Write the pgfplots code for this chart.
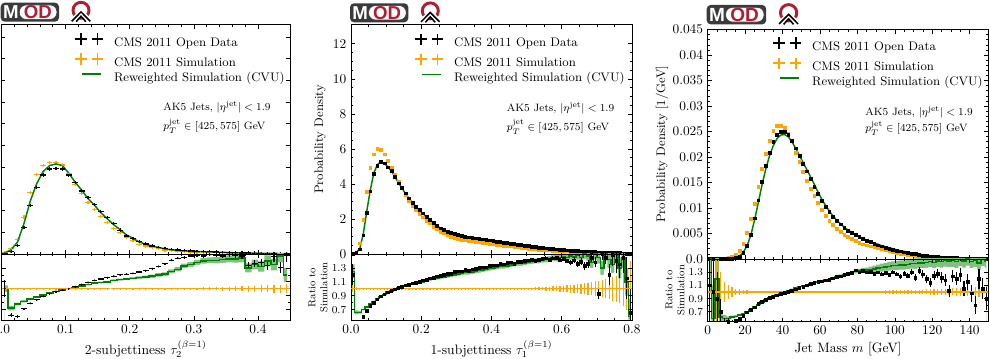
\documentclass[border=0pt]{standalone}
\usepackage{fontspec}
\usepackage{pgfplots}
\usepackage{pgfplotstable}
\pgfplotsset{compat=1.18}
\newfontfamily\logofont{Liberation Sans}
\definecolor{mplorange}{HTML}{FFA500}
\definecolor{mplgreen}{HTML}{008000}
\definecolor{bandgreen}{HTML}{80C080}
\definecolor{modred}{HTML}{B01E34}
\definecolor{moddark}{HTML}{3A3A3A}
\newcommand{\fs}[1]{\fontsize{#1}{#1}\selectfont}

\pgfplotstableread{
x d s g
0.005 0.06 0.10 0.10
0.015 0.20 0.50 0.40
0.025 0.76 1.36 1.10
0.035 2.42 3.40 2.80
0.045 4.46 5.66 4.90
0.055 6.12 7.34 6.50
0.065 7.28 8.14 7.60
0.075 7.84 8.44 8.15
0.085 7.86 8.44 8.30
0.095 7.84 8.20 8.15
0.105 7.28 7.40 7.45
0.115 6.58 6.40 6.60
0.125 5.80 5.60 5.90
0.135 5.20 4.72 5.10
0.145 4.58 4.12 4.50
0.155 3.90 3.44 3.80
0.165 3.38 2.88 3.25
0.175 2.82 2.36 2.70
0.185 2.20 1.96 2.25
0.195 1.66 1.50 1.75
0.205 1.44 1.26 1.45
0.215 1.14 0.90 1.10
0.225 0.92 0.74 0.90
0.235 0.74 0.62 0.74
0.245 0.62 0.48 0.60
0.255 0.50 0.37 0.48
0.265 0.42 0.30 0.39
0.275 0.36 0.25 0.33
0.285 0.31 0.21 0.28
0.295 0.28 0.19 0.26
0.305 0.25 0.17 0.23
0.315 0.22 0.15 0.21
0.325 0.20 0.135 0.19
0.335 0.18 0.12 0.17
0.345 0.16 0.105 0.15
0.355 0.14 0.095 0.13
0.365 0.12 0.08 0.11
0.375 0.10 0.068 0.09
0.385 0.09 0.065 0.085
0.395 0.08 0.057 0.075
0.405 0.07 0.05 0.068
0.415 0.06 0.043 0.058
0.425 0.05 0.035 0.05
0.435 0.045 0.033 0.045
0.445 0.04 0.027 0.035
}\pA

\pgfplotstableread{
x r re g ge se one
0.005 1.00 0.12 1.00 0.05 0.04 1
0.015 0.62 0.03 0.72 0.03 0.015 1
0.025 0.60 0.02 0.78 0.02 0.008 1
0.035 0.71 0.01 0.82 0.015 0.005 1
0.045 0.79 0.01 0.85 0.01 0.004 1
0.055 0.84 0.01 0.88 0.01 0.004 1
0.065 0.89 0.01 0.91 0.01 0.004 1
0.075 0.93 0.01 0.94 0.01 0.004 1
0.085 0.96 0.01 0.96 0.01 0.004 1
0.095 0.98 0.01 0.98 0.01 0.004 1
0.105 1.00 0.01 1.00 0.01 0.004 1
0.115 1.03 0.01 1.02 0.01 0.004 1
0.125 1.06 0.01 1.04 0.01 0.004 1
0.135 1.09 0.01 1.06 0.01 0.004 1
0.145 1.12 0.01 1.08 0.012 0.004 1
0.155 1.14 0.01 1.09 0.012 0.005 1
0.165 1.16 0.01 1.10 0.013 0.005 1
0.175 1.18 0.01 1.12 0.014 0.005 1
0.185 1.20 0.01 1.13 0.015 0.005 1
0.195 1.21 0.01 1.14 0.016 0.006 1
0.205 1.22 0.01 1.15 0.017 0.006 1
0.215 1.24 0.01 1.16 0.018 0.007 1
0.225 1.26 0.012 1.17 0.02 0.007 1
0.235 1.29 0.012 1.18 0.022 0.008 1
0.245 1.32 0.013 1.20 0.024 0.009 1
0.255 1.36 0.014 1.21 0.026 0.01 1
0.265 1.41 0.015 1.25 0.028 0.011 1
0.275 1.44 0.016 1.28 0.03 0.012 1
0.285 1.45 0.018 1.33 0.032 0.013 1
0.295 1.47 0.02 1.35 0.035 0.015 1
0.305 1.48 0.022 1.38 0.037 0.017 1
0.315 1.47 0.024 1.40 0.04 0.019 1
0.325 1.49 0.026 1.41 0.042 0.021 1
0.335 1.48 0.028 1.41 0.045 0.024 1
0.345 1.47 0.03 1.42 0.048 0.027 1
0.355 1.49 0.033 1.43 0.05 0.03 1
0.365 1.48 0.036 1.43 0.055 0.033 1
0.375 1.47 0.04 1.44 0.06 0.036 1
0.385 1.34 0.045 1.30 0.065 0.04 1
0.395 1.36 0.05 1.35 0.07 0.044 1
0.405 1.38 0.055 1.32 0.075 0.048 1
0.415 1.33 0.06 1.40 0.08 0.052 1
0.425 1.46 0.07 1.35 0.085 0.056 1
0.435 1.30 0.08 1.47 0.09 0.06 1
0.445 1.48 0.1 1.20 0.1 0.065 1
}\rA

\pgfplotstableread{
x d s g
0.005 0.02 0.01 0.02
0.015 0.10 0.05 0.08
0.025 0.27 0.61 0.30
0.035 1.07 1.94 1.15
0.045 2.36 3.56 2.45
0.055 3.58 4.93 3.65
0.065 4.59 5.69 4.62
0.075 5.05 6.00 5.10
0.085 5.28 5.94 5.27
0.095 5.18 5.69 5.18
0.105 4.95 5.31 4.97
0.115 4.76 4.90 4.74
0.125 4.42 4.51 4.42
0.135 4.04 4.13 4.07
0.145 3.79 3.75 3.76
0.155 3.47 3.37 3.46
0.165 3.18 3.05 3.17
0.175 2.93 2.74 2.91
0.185 2.70 2.51 2.68
0.195 2.51 2.29 2.48
0.205 2.32 2.10 2.30
0.215 2.13 1.90 2.11
0.225 1.94 1.75 1.95
0.235 1.79 1.56 1.78
0.245 1.60 1.41 1.62
0.255 1.47 1.27 1.47
0.265 1.37 1.18 1.36
0.275 1.27 1.07 1.26
0.285 1.20 0.98 1.19
0.295 1.14 0.92 1.13
0.305 1.09 0.865 1.08
0.315 1.04 0.825 1.03
0.325 1.00 0.787 0.99
0.335 0.96 0.756 0.95
0.345 0.93 0.727 0.92
0.355 0.90 0.698 0.89
0.365 0.87 0.669 0.86
0.375 0.84 0.641 0.83
0.385 0.81 0.614 0.80
0.395 0.78 0.586 0.77
0.405 0.75 0.56 0.74
0.415 0.72 0.533 0.71
0.425 0.69 0.511 0.68
0.435 0.66 0.485 0.65
0.445 0.63 0.46 0.62
0.455 0.60 0.438 0.59
0.465 0.57 0.413 0.56
0.475 0.54 0.391 0.53
0.485 0.51 0.367 0.50
0.495 0.48 0.343 0.47
0.505 0.45 0.321 0.45
0.515 0.42 0.298 0.42
0.525 0.40 0.284 0.40
0.535 0.37 0.261 0.37
0.545 0.35 0.246 0.35
0.555 0.33 0.231 0.33
0.565 0.31 0.217 0.31
0.575 0.29 0.203 0.29
0.585 0.27 0.19 0.27
0.595 0.25 0.176 0.25
0.605 0.23 0.163 0.24
0.615 0.21 0.15 0.22
0.625 0.20 0.144 0.20
0.635 0.18 0.13 0.19
0.645 0.17 0.125 0.17
0.655 0.155 0.116 0.16
0.665 0.14 0.106 0.15
0.675 0.13 0.10 0.14
0.685 0.12 0.092 0.13
0.695 0.11 0.086 0.12
0.705 0.10 0.078 0.11
0.715 0.09 0.07 0.10
0.725 0.08 0.063 0.09
0.735 0.07 0.056 0.08
0.745 0.062 0.05 0.07
0.755 0.055 0.045 0.065
0.765 0.048 0.04 0.05
0.775 0.04 0.034 0.045
0.785 0.033 0.028 0.035
0.795 0.025 0.022 0.02
}\pB

\pgfplotstableread{
x r re g ge se one
0.005 1.20 0.15 1.25 0.10 0.05 1
0.015 0.50 0.05 0.66 0.03 0.02 1
0.025 0.44 0.02 0.66 0.02 0.01 1
0.035 0.60 0.01 0.70 0.01 0.005 1
0.045 0.68 0.01 0.74 0.01 0.004 1
0.055 0.75 0.01 0.78 0.01 0.003 1
0.065 0.80 0.01 0.82 0.01 0.003 1
0.075 0.85 0.01 0.86 0.01 0.003 1
0.085 0.89 0.01 0.89 0.01 0.003 1
0.095 0.92 0.01 0.92 0.01 0.003 1
0.105 0.95 0.01 0.95 0.01 0.003 1
0.115 0.97 0.01 0.97 0.01 0.003 1
0.125 0.99 0.01 0.99 0.012 0.003 1
0.135 1.01 0.01 1.01 0.012 0.003 1
0.145 1.03 0.01 1.03 0.012 0.003 1
0.155 1.05 0.01 1.04 0.013 0.003 1
0.165 1.06 0.01 1.06 0.013 0.003 1
0.175 1.08 0.01 1.07 0.014 0.003 1
0.185 1.09 0.01 1.08 0.014 0.003 1
0.195 1.10 0.01 1.09 0.015 0.003 1
0.205 1.12 0.01 1.10 0.015 0.004 1
0.215 1.13 0.01 1.11 0.016 0.004 1
0.225 1.15 0.01 1.13 0.016 0.004 1
0.235 1.16 0.01 1.14 0.017 0.004 1
0.245 1.18 0.01 1.15 0.018 0.004 1
0.255 1.19 0.01 1.16 0.019 0.004 1
0.265 1.20 0.01 1.17 0.02 0.004 1
0.275 1.22 0.01 1.18 0.021 0.005 1
0.285 1.22 0.01 1.19 0.022 0.005 1
0.295 1.24 0.01 1.20 0.023 0.005 1
0.305 1.25 0.01 1.21 0.024 0.005 1
0.315 1.25 0.01 1.22 0.025 0.005 1
0.325 1.27 0.01 1.23 0.026 0.005 1
0.335 1.26 0.01 1.23 0.027 0.006 1
0.345 1.28 0.012 1.24 0.028 0.006 1
0.355 1.29 0.012 1.25 0.029 0.006 1
0.365 1.30 0.012 1.26 0.03 0.006 1
0.375 1.31 0.012 1.27 0.03 0.007 1
0.385 1.31 0.013 1.28 0.03 0.007 1
0.395 1.33 0.013 1.29 0.03 0.007 1
0.405 1.34 0.013 1.30 0.03 0.008 1
0.415 1.34 0.014 1.31 0.03 0.008 1
0.425 1.36 0.014 1.32 0.03 0.009 1
0.435 1.35 0.015 1.32 0.03 0.009 1
0.445 1.37 0.015 1.33 0.03 0.01 1
0.455 1.38 0.016 1.34 0.03 0.01 1
0.465 1.36 0.016 1.35 0.03 0.011 1
0.475 1.39 0.017 1.36 0.03 0.012 1
0.485 1.39 0.018 1.36 0.03 0.013 1
0.495 1.40 0.018 1.37 0.03 0.014 1
0.505 1.41 0.02 1.38 0.03 0.015 1
0.515 1.42 0.02 1.39 0.035 0.017 1
0.525 1.40 0.02 1.40 0.035 0.019 1
0.535 1.42 0.022 1.40 0.035 0.021 1
0.545 1.43 0.022 1.41 0.035 0.023 1
0.555 1.44 0.024 1.42 0.04 0.026 1
0.565 1.42 0.025 1.43 0.04 0.03 1
0.575 1.44 0.026 1.44 0.04 0.033 1
0.585 1.45 0.028 1.44 0.045 0.037 1
0.595 1.41 0.03 1.45 0.045 0.04 1
0.605 1.43 0.032 1.46 0.05 0.045 1
0.615 1.40 0.035 1.45 0.05 0.05 1
0.625 1.38 0.038 1.47 0.05 0.055 1
0.635 1.41 0.04 1.46 0.06 0.06 1
0.645 1.36 0.045 1.48 0.06 0.066 1
0.655 1.39 0.05 1.45 0.06 0.072 1
0.665 1.33 0.055 1.50 0.07 0.08 1
0.675 1.36 0.06 1.47 0.07 0.088 1
0.685 1.45 0.065 1.38 0.08 0.096 1
0.695 1.38 0.07 1.50 0.08 0.105 1
0.705 0.93 0.08 1.45 0.09 0.115 1
0.715 1.50 0.09 1.30 0.10 0.125 1
0.725 1.45 0.1 1.50 0.1 0.14 1
0.735 1.20 0.15 1.42 0.12 0.155 1
0.745 1.48 0.15 1.35 0.12 0.17 1
0.755 1.40 0.18 1.50 0.14 0.19 1
0.765 1.35 0.2 1.30 0.15 0.21 1
0.775 1.45 0.22 1.45 0.15 0.25 1
0.785 1.15 0.3 1.10 0.2 0.3 1
0.795 0.65 0.35 0.60 0.25 0.4 1
}\rB

\pgfplotstableread{
x d s g
1 0 0 0
3 0 0 0
5 0 0.00002 0
7 0 0.00005 0
9 0.00001 0.0001 0.00001
11 0.00005 0.0002 0.00005
13 0.0001 0.0004 0.0001
15 0.0002 0.0008 0.00025
17 0.0005 0.0016 0.0006
19 0.0012 0.003 0.0013
21 0.0026 0.0052 0.0026
23 0.0048 0.0079 0.0046
25 0.0080 0.0108 0.0076
27 0.0115 0.0141 0.0110
29 0.0151 0.0177 0.0145
31 0.0183 0.0207 0.0176
33 0.0209 0.0232 0.0202
35 0.0230 0.0251 0.0222
37 0.0244 0.0261 0.0236
39 0.0250 0.0262 0.0243
41 0.0250 0.0257 0.0244
43 0.0244 0.0246 0.0240
45 0.0232 0.0231 0.0230
47 0.0217 0.0209 0.0217
49 0.0202 0.0190 0.0203
51 0.0187 0.0171 0.0189
53 0.0172 0.0153 0.0175
55 0.0157 0.0137 0.0161
57 0.0142 0.0124 0.0146
59 0.0128 0.0110 0.0131
61 0.0114 0.0097 0.0117
63 0.0102 0.0085 0.0105
65 0.0092 0.0075 0.0094
67 0.0083 0.0067 0.0084
69 0.0075 0.0060 0.0076
71 0.0068 0.0053 0.0069
73 0.0062 0.0048 0.0062
75 0.0056 0.0043 0.0057
77 0.0051 0.0039 0.0052
79 0.0047 0.0035 0.0048
81 0.0043 0.0032 0.0044
83 0.0039 0.0029 0.0040
85 0.0036 0.0027 0.0037
87 0.0033 0.0025 0.0034
89 0.0030 0.0023 0.0031
91 0.0027 0.0021 0.0029
93 0.0025 0.0019 0.0026
95 0.0022 0.0017 0.0024
97 0.0020 0.0015 0.0022
99 0.0018 0.0014 0.0020
101 0.0016 0.0012 0.0018
103 0.0015 0.0011 0.0016
105 0.0013 0.0010 0.0015
107 0.0012 0.0009 0.0013
109 0.0011 0.0008 0.0012
111 0.0010 0.0007 0.0011
113 0.0008 0.0006 0.0009
115 0.0007 0.00055 0.0008
117 0.0006 0.0005 0.0007
119 0.0005 0.00045 0.0006
121 0.00045 0.0004 0.00055
123 0.0004 0.00035 0.0005
125 0.00035 0.0003 0.00043
127 0.0003 0.00025 0.00036
129 0.00025 0.0002 0.0003
131 0.00021 0.00018 0.00026
133 0.00018 0.00015 0.00022
135 0.00015 0.00012 0.00018
137 0.00012 0.0001 0.00015
139 0.0001 0.00009 0.00013
141 0.00008 0.00007 0.0001
143 0.00006 0.00005 0.00008
145 0.00005 0.00004 0.00006
147 0.00004 0.00003 0.00005
149 0.00003 0.00002 0.00004
}\pC

\pgfplotstableread{
x r re g ge se one
1 1.10 0.80 1.50 0.50 1.00 1
3 1.00 0.80 0.60 0.50 1.00 1
5 0.90 0.40 1.20 0.40 0.50 1
7 0.70 0.20 0.62 0.10 0.30 1
9 0.50 0.10 0.60 0.05 0.15 1
11 0.55 0.05 0.60 0.03 0.10 1
13 0.54 0.03 0.62 0.02 0.07 1
15 0.56 0.02 0.63 0.02 0.05 1
17 0.59 0.02 0.65 0.015 0.04 1
19 0.64 0.01 0.67 0.01 0.03 1
21 0.69 0.01 0.70 0.01 0.025 1
23 0.73 0.01 0.73 0.01 0.02 1
25 0.77 0.01 0.77 0.01 0.02 1
27 0.82 0.01 0.81 0.01 0.02 1
29 0.85 0.01 0.85 0.01 0.02 1
31 0.88 0.01 0.88 0.01 0.02 1
33 0.91 0.01 0.91 0.01 0.02 1
35 0.93 0.01 0.94 0.01 0.02 1
37 0.95 0.01 0.96 0.01 0.02 1
39 0.97 0.01 0.98 0.01 0.02 1
41 0.99 0.01 1.00 0.01 0.02 1
43 1.00 0.01 1.02 0.01 0.02 1
45 1.02 0.01 1.04 0.01 0.02 1
47 1.04 0.01 1.06 0.01 0.02 1
49 1.06 0.01 1.08 0.01 0.02 1
51 1.08 0.01 1.09 0.01 0.02 1
53 1.10 0.01 1.10 0.01 0.02 1
55 1.12 0.01 1.12 0.01 0.02 1
57 1.14 0.01 1.14 0.01 0.02 1
59 1.15 0.01 1.15 0.01 0.02 1
61 1.16 0.01 1.17 0.012 0.02 1
63 1.18 0.01 1.18 0.012 0.02 1
65 1.19 0.01 1.19 0.014 0.02 1
67 1.21 0.012 1.21 0.015 0.02 1
69 1.23 0.012 1.23 0.016 0.02 1
71 1.24 0.012 1.25 0.018 0.02 1
73 1.26 0.013 1.26 0.02 0.02 1
75 1.28 0.014 1.28 0.022 0.02 1
77 1.29 0.015 1.29 0.025 0.02 1
79 1.33 0.016 1.31 0.028 0.02 1
81 1.30 0.017 1.32 0.03 0.02 1
83 1.32 0.018 1.33 0.035 0.02 1
85 1.30 0.02 1.33 0.04 0.02 1
87 1.31 0.02 1.34 0.045 0.02 1
89 1.28 0.022 1.35 0.05 0.02 1
91 1.30 0.024 1.36 0.055 0.022 1
93 1.27 0.026 1.37 0.06 0.022 1
95 1.29 0.028 1.38 0.06 0.024 1
97 1.26 0.03 1.39 0.065 0.024 1
99 1.30 0.032 1.40 0.065 0.026 1
101 1.27 0.035 1.40 0.07 0.026 1
103 1.24 0.038 1.41 0.07 0.028 1
105 1.28 0.04 1.41 0.07 0.028 1
107 1.25 0.043 1.42 0.075 0.03 1
109 1.30 0.046 1.43 0.075 0.03 1
111 1.22 0.05 1.43 0.08 0.032 1
113 1.32 0.053 1.44 0.08 0.034 1
115 1.27 0.056 1.44 0.08 0.036 1
117 1.20 0.06 1.45 0.085 0.038 1
119 1.14 0.065 1.46 0.085 0.04 1
121 1.25 0.07 1.45 0.09 0.042 1
123 1.28 0.075 1.47 0.09 0.044 1
125 1.22 0.08 1.46 0.09 0.046 1
127 1.18 0.085 1.48 0.095 0.048 1
129 1.02 0.09 1.47 0.095 0.05 1
131 1.24 0.095 1.48 0.1 0.053 1
133 1.20 0.1 1.46 0.1 0.056 1
135 1.26 0.105 1.49 0.1 0.06 1
137 1.05 0.11 1.47 0.1 0.063 1
139 1.15 0.12 1.50 0.1 0.066 1
141 0.98 0.13 1.46 0.1 0.07 1
143 0.80 0.14 1.48 0.1 0.073 1
145 1.20 0.15 1.44 0.1 0.076 1
147 1.05 0.16 1.49 0.1 0.08 1
149 0.90 0.18 1.47 0.1 0.085 1
}\rC

\pgfplotsset{
  base/.style={scale only axis, tick align=inside, xtick pos=both, ytick pos=both,
    major tick length=3pt, minor tick length=1.6pt,
    every tick/.style={black, line width=0.45pt},
    axis line style={line width=0.7pt},
    axis on top,
    tick label style={font=\fs{10}},
    scaled ticks=false,
  },
  mainax/.style={base, xticklabels={}, ymin=0,
    legend style={draw=none, fill=none, font=\fs{9.3}, inner sep=0pt, row sep=2.5pt,
      cells={anchor=west}, nodes={inner sep=0pt, text height=6.8pt, text depth=2pt},
      /tikz/every odd column/.append style={column sep=7.5pt}},
    ylabel style={font=\fs{9.3}},
  },
  ratioax/.style={base, ymin=0.55, ymax=1.5, ytick={0.7,0.9,1.1,1.3}, minor y tick num=1,
    yticklabel style={font=\fs{7.8}, /pgf/number format/.cd, fixed, fixed zerofill, precision=1},
    ylabel={Ratio to\\Simulation},
    ylabel style={align=center, font=\fontsize{7.6}{9}\selectfont, anchor=center},
    xlabel style={font=\fs{10.2}, yshift=1.6pt},
  },
  datleg/.style={legend image code/.code={\draw[black, line width=1.4pt]
      (0pt,3.2pt)--(8.4pt,3.2pt) (4.2pt,-1.1pt)--(4.2pt,7.5pt)
      (12.4pt,3.2pt)--(20.8pt,3.2pt) (16.6pt,-1.1pt)--(16.6pt,7.5pt);}},
  simleg/.style={legend image code/.code={\draw[mplorange, line width=1.4pt]
      (0pt,3.2pt)--(8.4pt,3.2pt) (4.2pt,-1.1pt)--(4.2pt,7.5pt)
      (12.4pt,3.2pt)--(20.8pt,3.2pt) (16.6pt,-1.1pt)--(16.6pt,7.5pt);}},
  rwleg/.style={legend image code/.code={\draw[mplgreen, line width=1.3pt]
      (5pt,3.2pt)--(19.2pt,3.2pt); \draw[white, line width=0pt, opacity=0] (0pt,3.2pt)--(20.8pt,3.2pt);}},
}

\newcommand{\modlogo}[3]{%
  \begin{scope}[shift={(#1,#2)}, scale=#3, every node/.style={transform shape, inner sep=0pt}]
    \fill[moddark, rounded corners=3pt] (0,0) rectangle (58.3,19);
    \filldraw[fill=white, draw=moddark, line width=0.5pt, rounded corners=5pt] (18.6,2.3) rectangle (56.2,16.7);
    \node[text=white] at (10.2,9.6) {\logofont\bfseries\fs{14}M};
    \node[text=modred] at (37.2,9.6) {\logofont\bfseries\fs{14}OD};
    \draw[modred, line width=2.2pt] (80.3,7.6) circle (8);
    \draw[white, line width=3.6pt] (71,18.6)--(80.3,9.2)--(89.6,18.6);
    \draw[black, line width=1.15pt] (71,18.6)--(80.3,9.2)--(89.6,18.6);
    \draw[black, line width=1.15pt] (75.4,19)--(80.3,13.6)--(85.2,19);
  \end{scope}}

\begin{document}
\begin{tikzpicture}
% ---------------- Panel 1 ----------------
\begin{axis}[mainax, at={(1.125pt,78.75pt)}, anchor=south west, width=216.4pt, height=172.1pt,
  xmin=0, xmax=0.45, ymax=21.15, xtick={0,0.1,0.2,0.3,0.4}, minor x tick num=4,
  ytick={0,2,4,6,8,10,12,14,16,18,20}, yticklabels={},
  legend style={at={(0.252,0.968)}, anchor=north west}]
\addlegendimage{datleg}\addlegendentry{CMS 2011 Open Data}
\addlegendimage{simleg}\addlegendentry{CMS 2011 Simulation}
\addlegendimage{rwleg}\addlegendentry{Reweighted Simulation (CVU)}
\addplot[forget plot, mplorange, only marks, mark=*, mark size=0.5pt,
  error bars/.cd, x dir=both, x fixed=0.0045, y dir=both, y fixed=0.15, error mark=none,
  error bar style={line width=0.9pt}] table[x=x, y=s]{\pA};
\addplot[forget plot, mplgreen, line width=1.1pt] table[x=x, y=g]{\pA};
\addplot[forget plot, black, only marks, mark=*, mark size=0.5pt,
  error bars/.cd, x dir=both, x fixed=0.0045, y dir=both, y fixed=0.15, error mark=none,
  error bar style={line width=0.9pt}] table[x=x, y=d]{\pA};
\node[anchor=base west, inner sep=0pt, font=\fs{8}] at (axis description cs:0.56,0.625) {AK5 Jets, $|\eta^{\mathrm{jet}}| < 1.9$};
\node[anchor=base west, inner sep=0pt, font=\fs{8}] at (axis description cs:0.56,0.5425) {$p_T^{\mathrm{jet}} \in [425, 575]$ GeV};
\end{axis}
\begin{axis}[ratioax, at={(1.125pt,29.25pt)}, anchor=south west, width=216.4pt, height=49.5pt,
  xmin=0, xmax=0.45, xtick={0,0.1,0.2,0.3,0.4}, minor x tick num=4,
  xticklabel style={/pgf/number format/.cd, fixed, fixed zerofill, precision=1},
  yticklabels={},
  xlabel={2-subjettiness $\tau_2^{(\beta=1)}$}, ylabel={}]
\addplot[fill=bandgreen, draw=none, const plot mark mid, forget plot] table[x=x, y expr=\thisrow{g}+\thisrow{ge}]{\rA} \closedcycle;
\addplot[fill=white, draw=none, const plot mark mid, forget plot] table[x=x, y expr=\thisrow{g}-\thisrow{ge}]{\rA} \closedcycle;
\addplot[forget plot, mplorange, only marks, mark=-, mark size=2.4pt, mark options={line width=1pt},
  error bars/.cd, y dir=both, y explicit, error mark=none,
  error bar style={line width=0.9pt}] table[x=x, y=one, y error=se]{\rA};
\addplot[forget plot, mplgreen, line width=1.1pt, const plot mark mid] table[x=x, y=g]{\rA};
\addplot[forget plot, black, only marks, mark=*, mark size=0.5pt,
  error bars/.cd, x dir=both, x fixed=0.0045, y dir=both, y explicit, error mark=none,
  error bar style={line width=0.9pt}] table[x=x, y=r, y error=re]{\rA};
\end{axis}

% ---------------- Panel 2 ----------------
\begin{axis}[mainax, at={(263.25pt,78.75pt)}, anchor=south west, width=210.75pt, height=172.1pt,
  xmin=0, xmax=0.8, ymax=13.1, xtick={0,0.2,0.4,0.6,0.8}, minor x tick num=3,
  ytick={0,2,4,6,8,10,12}, minor y tick num=3,
  ylabel={Probability Density},
  ylabel style={at={(axis description cs:-0.11,0.5)}, anchor=center},
  legend style={at={(0.225,0.966)}, anchor=north west}]
\addlegendimage{datleg}\addlegendentry{CMS 2011 Open Data}
\addlegendimage{simleg}\addlegendentry{CMS 2011 Simulation}
\addlegendimage{rwleg}\addlegendentry{Reweighted Simulation (CVU)}
\addplot[forget plot, mplorange, only marks, mark=square*, mark size=1.05pt,
  error bars/.cd, x dir=both, x fixed=0.005, error mark=none,
  error bar style={line width=0.8pt}] table[x=x, y=s]{\pB};
\addplot[forget plot, mplgreen, line width=1.1pt] table[x=x, y=g]{\pB};
\addplot[forget plot, black, only marks, mark=square*, mark size=1.05pt,
  error bars/.cd, x dir=both, x fixed=0.005, error mark=none,
  error bar style={line width=0.8pt}] table[x=x, y=d]{\pB};
\node[anchor=base west, inner sep=0pt, font=\fs{8}] at (axis description cs:0.554,0.621) {AK5 Jets, $|\eta^{\mathrm{jet}}| < 1.9$};
\node[anchor=base west, inner sep=0pt, font=\fs{8}] at (axis description cs:0.554,0.540) {$p_T^{\mathrm{jet}} \in [425, 575]$ GeV};
\end{axis}
\begin{axis}[ratioax, at={(263.25pt,29.25pt)}, anchor=south west, width=210.75pt, height=49.5pt,
  xmin=0, xmax=0.8, xtick={0,0.2,0.4,0.6,0.8}, minor x tick num=3,
  xticklabel style={/pgf/number format/.cd, fixed, fixed zerofill, precision=1},
  xlabel={1-subjettiness $\tau_1^{(\beta=1)}$},
  ylabel style={at={(axis description cs:-0.117,0.49)}}]
\addplot[fill=bandgreen, draw=none, const plot mark mid, forget plot] table[x=x, y expr=\thisrow{g}+\thisrow{ge}]{\rB} \closedcycle;
\addplot[fill=white, draw=none, const plot mark mid, forget plot] table[x=x, y expr=\thisrow{g}-\thisrow{ge}]{\rB} \closedcycle;
\addplot[forget plot, mplorange, only marks, mark=-, mark size=1.32pt, mark options={line width=1pt},
  error bars/.cd, y dir=both, y explicit, error mark=none,
  error bar style={line width=0.9pt}] table[x=x, y=one, y error=se]{\rB};
\addplot[forget plot, mplgreen, line width=1.1pt, const plot mark mid] table[x=x, y=g]{\rB};
\addplot[forget plot, black, only marks, mark=square*, mark size=1pt,
  error bars/.cd, y dir=both, y explicit, error mark=none,
  error bar style={line width=0.8pt}] table[x=x, y=r, y error=re]{\rB};
\end{axis}

% ---------------- Panel 3 ----------------
\begin{axis}[mainax, at={(530.8pt,75pt)}, anchor=south west, width=210.45pt, height=172.1pt,
  xmin=0, xmax=150, ymax=0.045, xtick={0,20,40,60,80,100,120,140}, minor x tick num=3,
  ytick={0,0.005,0.01,0.015,0.02,0.025,0.03,0.035,0.04,0.045},
  yticklabels={0.0,0.005,0.01,0.015,0.02,0.025,0.03,0.035,0.04,0.045}, minor y tick num=4,
  ylabel={Probability Density [1/GeV]},
  ylabel style={at={(axis description cs:-0.163,0.5)}, anchor=center},
  legend style={at={(0.23,0.971)}, anchor=north west}]
\addlegendimage{datleg}\addlegendentry{CMS 2011 Open Data}
\addlegendimage{simleg}\addlegendentry{CMS 2011 Simulation}
\addlegendimage{rwleg}\addlegendentry{Reweighted Simulation (CVU)}
\addplot[forget plot, mplorange, only marks, mark=square*, mark size=1.05pt] table[x=x, y=s]{\pC};
\addplot[forget plot, mplgreen, line width=1.1pt] table[x=x, y=g]{\pC};
\addplot[forget plot, black, only marks, mark=square*, mark size=1.05pt] table[x=x, y=d]{\pC};
\node[anchor=base west, inner sep=0pt, font=\fs{8}] at (axis description cs:0.561,0.627) {AK5 Jets, $|\eta^{\mathrm{jet}}| < 1.9$};
\node[anchor=base west, inner sep=0pt, font=\fs{8}] at (axis description cs:0.561,0.5556) {$p_T^{\mathrm{jet}} \in [425, 575]$ GeV};
\end{axis}
\begin{axis}[ratioax, at={(530.8pt,28pt)}, anchor=south west, width=210.45pt, height=47pt,
  xmin=0, xmax=150, xtick={0,20,40,60,80,100,120,140}, minor x tick num=3,
  xlabel={Jet Mass $m$ [GeV]},
  ylabel style={at={(axis description cs:-0.117,0.505)}}]
\addplot[fill=bandgreen, draw=none, const plot mark mid, forget plot] table[x=x, y expr=\thisrow{g}+\thisrow{ge}]{\rC} \closedcycle;
\addplot[fill=white, draw=none, const plot mark mid, forget plot] table[x=x, y expr=\thisrow{g}-\thisrow{ge}]{\rC} \closedcycle;
\addplot[forget plot, mplorange, only marks, mark=-, mark size=1.44pt, mark options={line width=1pt},
  error bars/.cd, y dir=both, y explicit, error mark=none,
  error bar style={line width=0.9pt}] table[x=x, y=one, y error=se]{\rC};
\addplot[forget plot, mplgreen, line width=1.1pt, const plot mark mid] table[x=x, y=g]{\rC};
\addplot[forget plot, black, only marks, mark=square*, mark size=1pt,
  error bars/.cd, y dir=both, y explicit, error mark=none,
  error bar style={line width=0.8pt}] table[x=x, y=r, y error=re]{\rC};
\end{axis}

% ---------------- logos ----------------
\begin{scope}[x=0.75pt, y=-0.75pt, yshift=269.25pt]
  \modlogo{0.7}{2.7}{1}
  \modlogo{350}{3.3}{1}
  \modlogo{706.7}{5}{1.02}
\end{scope}

\pgfresetboundingbox
\useasboundingbox (0,0) rectangle (742.5pt,269.25pt);
\end{tikzpicture}
\end{document}
